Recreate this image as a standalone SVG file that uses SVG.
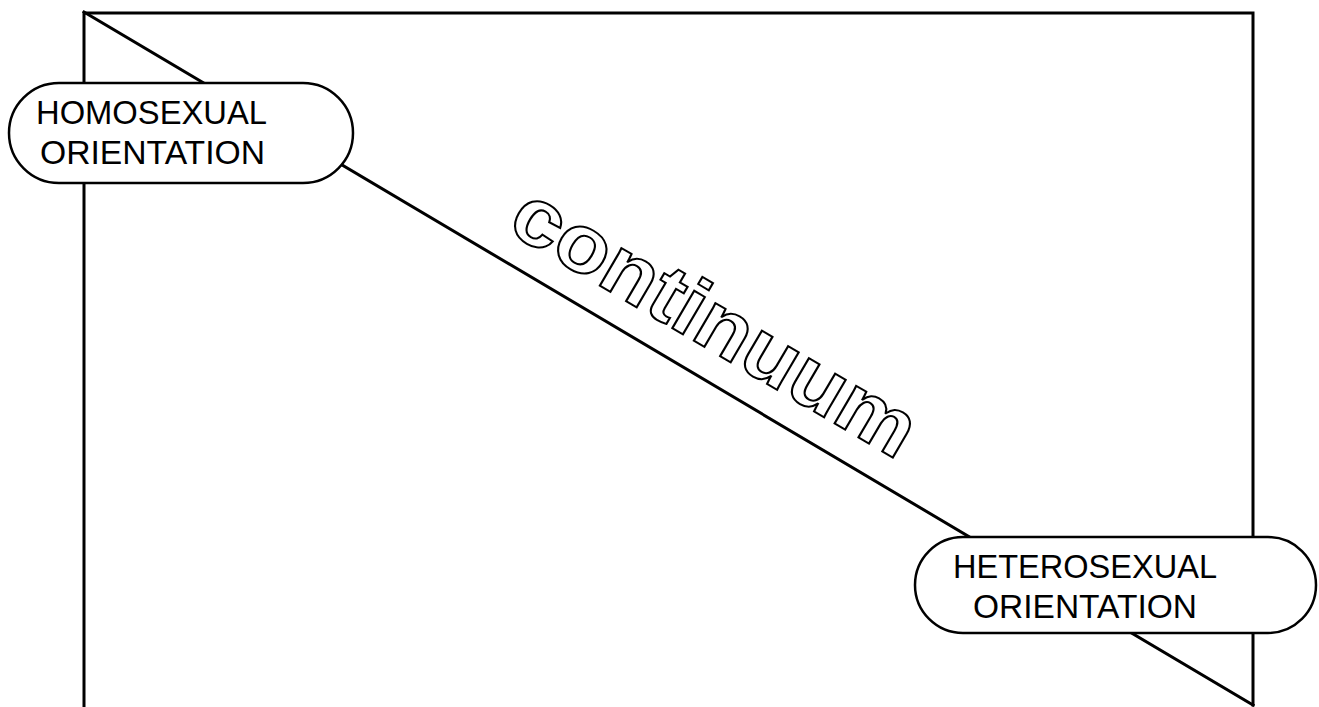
<svg xmlns="http://www.w3.org/2000/svg" width="1319" height="707" viewBox="0 0 1319 707">
<style>
.ln{stroke:#000;stroke-width:3;fill:none;stroke-linecap:square}
.pill{fill:#fff;stroke:#000;stroke-width:2.5}
.lbl{font-family:"Liberation Sans",Arial,sans-serif;font-size:34px;fill:#000}
.cont{font-family:"Liberation Sans",Arial,sans-serif;font-weight:bold;font-size:82px;fill:#fff;stroke:#000;stroke-width:2}
</style>
<g id="connectors">
<polyline class="ln" points="84,707 84,13 1253,13 1253,705"/>
<line class="ln" x1="84" y1="12" x2="1253" y2="705"/>
</g>
<g id="continuum">
<text class="cont" transform="translate(505,230) rotate(30.4)" x="0" y="0" textLength="455" lengthAdjust="spacingAndGlyphs">continuum</text>
</g>
<g id="homosexual">
<rect class="pill" x="9" y="83" width="344" height="100" rx="50" ry="50"/>
<text class="lbl" x="36" y="124" textLength="231" lengthAdjust="spacingAndGlyphs">HOMOSEXUAL</text>
<text class="lbl" x="40" y="164" textLength="225" lengthAdjust="spacingAndGlyphs">ORIENTATION</text>
</g>
<g id="heterosexual">
<rect class="pill" x="915" y="537" width="401" height="96" rx="48" ry="48"/>
<text class="lbl" x="953" y="578" textLength="264" lengthAdjust="spacingAndGlyphs">HETEROSEXUAL</text>
<text class="lbl" x="973" y="618" textLength="224" lengthAdjust="spacingAndGlyphs">ORIENTATION</text>
</g>
</svg>
